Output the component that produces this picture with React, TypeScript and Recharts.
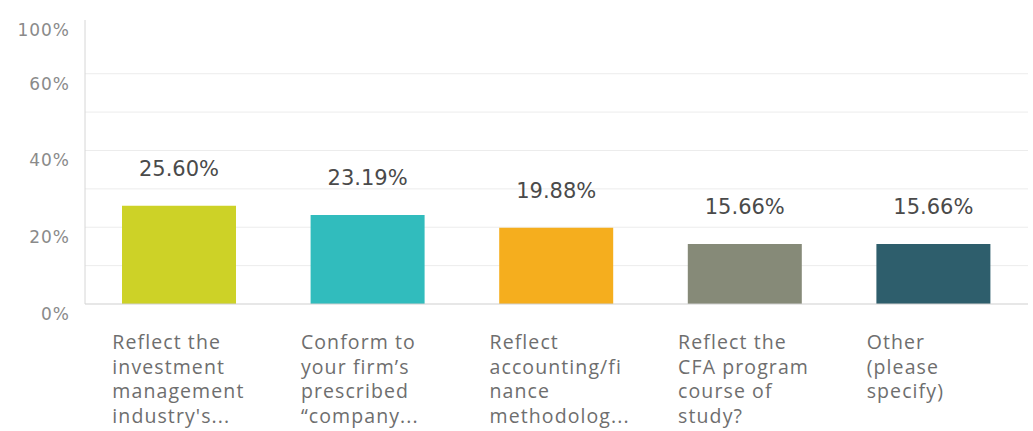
import React from "react";
import { BarChart, Bar, XAxis, YAxis, CartesianGrid, LabelList, Cell } from "recharts";

const categories = [
  "Reflect the\ninvestment\nmanagement\nindustry's...",
  "Conform to\nyour firm’s\nprescribed\n“company...",
  "Reflect\naccounting/fi\nnance\nmethodolog...",
  "Reflect the\nCFA program\ncourse of\nstudy?",
  "Other\n(please\nspecify)",
];
const values = [25.6, 23.19, 19.88, 15.66, 15.66];
const barColors = ["#cdd227", "#31bcbd", "#f5ae1e", "#868a78", "#2e5e6c"];
const yTickValues = [0, 20, 40, 60, 74];
const yTickLabels = ["0%", "20%", "40%", "60%", "100%"];
const gridValues = [10, 20, 30, 40, 50, 60];

const data = categories.map((name, i) => ({ name, value: values[i] }));

const YTick = (props: any) => {
  const { y, payload } = props;
  const idx = yTickValues.indexOf(payload.value);
  return (
    <text
      x={70}
      y={y + 10}
      textAnchor="end"
      dominantBaseline="central"
      fill="#8a8a8a"
      fontSize={17}
      fontFamily="DejaVu Sans"
      letterSpacing={1}
    >
      {yTickLabels[idx]}
    </text>
  );
};

const XTick = (props: any) => {
  const { x, y, payload } = props;
  const lines = String(payload.value).split("\n");
  return (
    <text
      x={x - 67}
      y={y + 45}
      textAnchor="start"
      fill="#6e6e6e"
      fontSize={19.5}
      fontFamily="Open Sans"
      letterSpacing={1.1}
    >
      {lines.map((l, i) => (
        <tspan key={i} x={x - 67} dy={i === 0 ? 0 : 24.5}>
          {l}
        </tspan>
      ))}
    </text>
  );
};

export default function App() {
  return (
    <div style={{ width: 1033, height: 431, background: "#fff" }}>
      <style>{`body{margin:0}`}</style>
      <BarChart
        width={1033}
        height={431}
        data={data}
        margin={{ top: 20, right: 5, left: 0, bottom: 0 }}
      >
        <CartesianGrid vertical={false} horizontalValues={gridValues} stroke="#ececec" />
        <XAxis
          dataKey="name"
          height={127}
          interval={0}
          tickLine={false}
          tickSize={0}
          tickMargin={0}
          axisLine={{ stroke: "#cfcfcf" }}
          tick={<XTick />}
        />
        <YAxis
          width={85}
          domain={[0, 74]}
          ticks={yTickValues}
          tickLine={false}
          axisLine={{ stroke: "#d6d6d6" }}
          tick={<YTick />}
        />
        <Bar dataKey="value" barSize={114} isAnimationActive={false}>
          {data.map((_, i) => (
            <Cell key={i} fill={barColors[i]} />
          ))}
          <LabelList
            dataKey="value"
            position="top"
            offset={30}
            formatter={(v: any) => `${Number(v).toFixed(2)}%`}
            fill="#4a4a4a"
            fontSize={21}
            fontFamily="DejaVu Sans"
          />
        </Bar>
      </BarChart>
    </div>
  );
}
